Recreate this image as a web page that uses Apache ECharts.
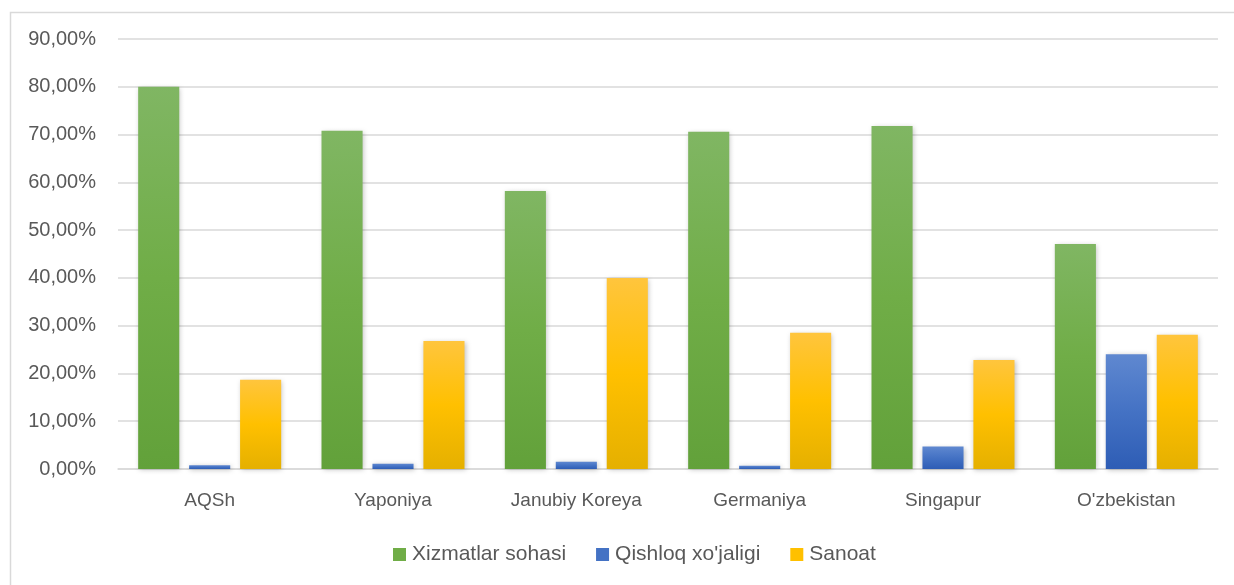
<!DOCTYPE html>
<html>
<head>
<meta charset="utf-8">
<script src="https://cdn.jsdelivr.net/npm/echarts@6/dist/echarts.min.js"></script>
<style>html,body{margin:0;padding:0;background:#fff}#c{width:1234px;height:585px}</style>
</head>
<body>
<div id="c"></div>
<script>
const categories = ["AQSh", "Yaponiya", "Janubiy Koreya", "Germaniya", "Singapur", "O'zbekistan"];
const seriesNames = ["Xizmatlar sohasi", "Qishloq xo'jaligi", "Sanoat"];
const xizmatlar = [80.0, 70.8, 58.2, 70.6, 71.8, 47.1];
const qishloq = [0.8, 1.1, 1.5, 0.7, 4.7, 24.0];
const sanoat = [18.7, 26.8, 40.0, 28.5, 22.8, 28.1];
const yTicks = [0, 10, 20, 30, 40, 50, 60, 70, 80, 90];

const font = "'Liberation Sans', Arial, sans-serif";
function grad(top, mid, bot) {
  return new echarts.graphic.LinearGradient(0, 0, 0, 1, [
    {offset: 0, color: top}, {offset: 0.5, color: mid}, {offset: 1, color: bot}
  ]);
}
const styles = [
  grad('#80b663', '#70ad47', '#62a13a'),
  grad('#5f88d0', '#4472c4', '#2e5db5'),
  grad('#ffc53d', '#ffc000', '#e5b000')
];
const legendColors = ['#70ad47', '#4472c4', '#ffc000'];
const data = [xizmatlar, qishloq, sanoat];

const chart = echarts.init(document.getElementById('c'));
chart.setOption({
  backgroundColor: '#fff',
  animation: false,
  graphic: [{
    type: 'rect', left: 8, top: 10, shape: {width: 1240, height: 600},
    style: {fill: 'none', stroke: '#d9d9d9', lineWidth: 1.5}, silent: true
  }],
  grid: {left: 118, right: 16, top: 39, bottom: 116},
  legend: {
    top: 539, left: 388, itemWidth: 13, itemHeight: 13, itemGap: 30,
    icon: 'rect',
    textStyle: {fontFamily: font, fontSize: 21, color: '#595959', padding: [0, 0, 0, 1]},
    data: seriesNames.map((n, i) => ({name: n, itemStyle: {color: legendColors[i]}}))
  },
  xAxis: {
    type: 'category', data: categories,
    axisLine: {lineStyle: {color: '#d9d9d9', width: 1.5}},
    axisTick: {show: false},
    axisLabel: {fontFamily: font, fontSize: 19, color: '#595959', margin: 22}
  },
  yAxis: {
    type: 'value', min: yTicks[0], max: yTicks[yTicks.length - 1], interval: 10,
    axisLine: {show: false}, axisTick: {show: false},
    splitLine: {lineStyle: {color: '#d9d9d9', width: 1.5}},
    axisLabel: {
      fontFamily: font, fontSize: 20, color: '#595959', margin: 22,
      formatter: v => v.toFixed(2).replace('.', ',') + '%'
    }
  },
  series: seriesNames.map((n, i) => ({
    name: n, type: 'bar', data: data[i],
    barGap: '24%', barCategoryGap: '22%',
    itemStyle: {
      color: styles[i],
      shadowColor: 'rgba(0,0,0,0.25)', shadowBlur: 5, shadowOffsetX: 1, shadowOffsetY: 1
    }
  }))
});
</script>
</body>
</html>
